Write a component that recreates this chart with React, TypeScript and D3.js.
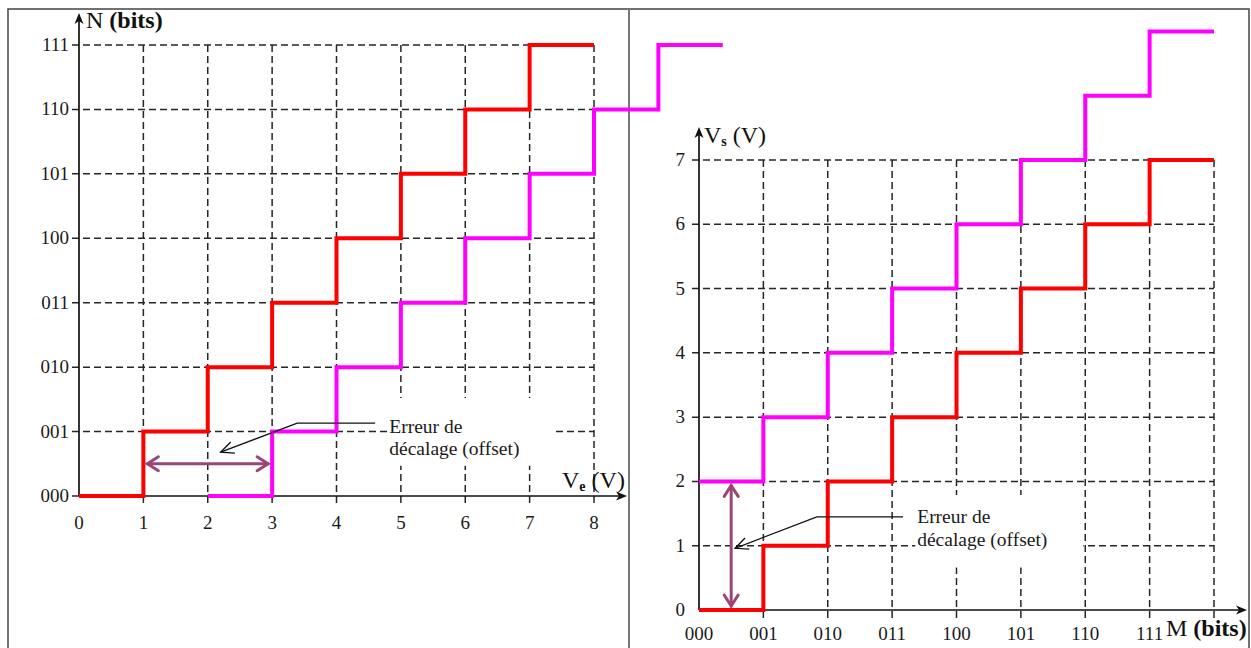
import React from "react";
import * as d3 from "d3";

// left chart: code N versus input voltage Ve
const codesN = ["000", "001", "010", "011", "100", "101", "110", "111"];
const voltsVe = [0, 1, 2, 3, 4, 5, 6, 7, 8];
// [Ve, level] step points (step after)
const redLeft: [number, number][] = [
  [0, 0], [1, 1], [2, 2], [3, 3], [4, 4], [5, 5], [6, 6], [7, 7], [8, 7],
];
const magentaLeft: [number, number][] = [
  [2, 0], [3, 1], [4, 2], [5, 3], [6, 4], [7, 5], [8, 6], [9, 7], [10, 7],
];

// right chart: output voltage Vs versus code M
const codesM = ["000", "001", "010", "011", "100", "101", "110", "111"];
const voltsVs = [0, 1, 2, 3, 4, 5, 6, 7];
const redRight: [number, number][] = [
  [0, 0], [1, 1], [2, 2], [3, 3], [4, 4], [5, 5], [6, 6], [7, 7], [8, 7],
];
const magentaRight: [number, number][] = [
  [0, 2], [1, 3], [2, 4], [3, 5], [4, 6], [5, 7], [6, 8], [7, 9], [8, 9],
];

const FONT = "'Liberation Serif', 'DejaVu Serif', serif";
const GRID = "#262626";
const PURPLE = "#9b4577";

const xL = d3.scaleLinear().domain([0, 8]).range([79, 594]);
const yL = d3.scaleLinear().domain([0, 7]).range([496, 45]);
const xR = d3.scaleLinear().domain([0, 8]).range([699, 1214]);
const yR = d3.scaleLinear().domain([0, 7]).range([610, 160]);

const stepLine = (xs: d3.ScaleLinear<number, number>, ys: d3.ScaleLinear<number, number>) =>
  d3
    .line<[number, number]>()
    .x((d) => xs(d[0]))
    .y((d) => ys(d[1]))
    .curve(d3.curveStepAfter);

/* filled arrow head pointing in direction (dx, dy) */
const headPath = (x: number, y: number, dx: number, dy: number, len = 11, w = 4.5) => {
  const bx = x - dx * len, by = y - dy * len;
  const px = -dy, py = dx;
  return `M${x},${y}L${bx + px * w},${by + py * w}L${bx + dx * 3},${by + dy * 3}L${bx - px * w},${by - py * w}Z`;
};

/* open chevron arrow head */
const chevron = (x: number, y: number, dx: number, dy: number, len = 11, w = 7) => {
  const bx = x - dx * len, by = y - dy * len;
  const px = -dy, py = dx;
  return `M${bx + px * w},${by + py * w}L${x},${y}L${bx - px * w},${by - py * w}`;
};

const Grid = ({ xs, ys, nx, ny }: any) => {
  const x0 = xs(0), x1 = xs(nx), y0 = ys(0), y1 = ys(ny);
  return (
    <g stroke={GRID} strokeWidth={1.5} strokeDasharray="7,4" fill="none">
      {d3.range(1, ny + 1).map((i) => (
        <line key={"h" + i} x1={x0 - 7} x2={x1} y1={ys(i)} y2={ys(i)} />
      ))}
      {d3.range(1, nx + 1).map((i) => (
        <line key={"v" + i} x1={xs(i)} x2={xs(i)} y1={y1} y2={y0 + 10} />
      ))}
    </g>
  );
};

export default function App() {
  const lineL = stepLine(xL, yL);
  const lineR = stepLine(xR, yR);

  // leader line points of the annotations
  const leadL: [number, number][] = [
    [xL(4.6), yL(1.13)], [xL(3.39), yL(1.13)], [xL(2.2), yL(0.68)],
  ];
  const leadR: [number, number][] = [
    [xR(3.17), yR(1.45)], [xR(1.83), yR(1.45)], [xR(0.56), yR(0.96)],
  ];
  const dir = (a: [number, number], b: [number, number]) => {
    const dx = b[0] - a[0], dy = b[1] - a[1];
    const n = Math.hypot(dx, dy);
    return [dx / n, dy / n];
  };
  const dL = dir(leadL[1], leadL[2]);
  const dR = dir(leadR[1], leadR[2]);

  return (
    <svg width={1251} height={648} style={{ position: "absolute", left: 0, top: 0, background: "#fff" }}
      fontFamily={FONT}>
      <rect x={0} y={0} width={1251} height={648} fill="#fff" />
      {/* frame */}
      <g stroke="#444" strokeWidth={1.5} fill="none">
        <path d="M8,648V9H1249V648" />
        <line x1={629} x2={629} y1={9} y2={648} stroke="#777" strokeWidth={2} />
      </g>

      {/* ===== left chart ===== */}
      <Grid xs={xL} ys={yL} nx={8} ny={7} />
      {/* white patch behind the annotation */}
      <rect x={xL(4.82)} y={yL(1.52)} width={xL(7.4) - xL(4.82)} height={yL(0.47) - yL(1.52)} fill="#fff" />
      {/* axes */}
      <g stroke="#111" strokeWidth={1.7}>
        <line x1={xL(0)} x2={xL(0)} y1={yL(0)} y2={20} />
        <line x1={xL(0)} x2={620} y1={yL(0)} y2={yL(0)} />
      </g>
      <path d={headPath(xL(0), 13, 0, -1)} fill="#111" />
      <path d={headPath(627, yL(0), 1, 0)} fill="#111" />
      <g stroke={GRID} strokeWidth={1.5}>
        <line x1={xL(0) - 7} x2={xL(0)} y1={yL(0)} y2={yL(0)} />
      </g>
      <g fontSize={19} fill="#1a1a1a">
        {codesN.map((c, i) => (
          <text key={c} x={xL(0) - 10} y={yL(i) + 6} textAnchor="end">{c}</text>
        ))}
        {voltsVe.map((v) => (
          <text key={v} x={xL(v)} y={529} textAnchor="middle">{v}</text>
        ))}
      </g>
      <text x={86} y={28} fontSize={24} fill="#111">
        N <tspan fontWeight="bold">(bits)</tspan>
      </text>
      <text x={562} y={488} fontSize={24} fill="#111">
        V<tspan fontSize={14} fontWeight="bold" dy={3}>e</tspan>
        <tspan dy={-3}> (V)</tspan>
      </text>

      {/* curves */}
      <path d={lineL(magentaLeft) || ""} fill="none" stroke="#ff00ff" strokeWidth={4} />
      <path d={lineL(redLeft) || ""} fill="none" stroke="#ff0000" strokeWidth={4} />

      {/* offset error annotation */}
      <g stroke={PURPLE} strokeWidth={3} fill="none" strokeLinecap="round">
        <line x1={xL(1) + 4} x2={xL(3) - 4} y1={yL(0.5)} y2={yL(0.5)} />
        <path d={chevron(xL(1) + 4, yL(0.5), -1, 0)} />
        <path d={chevron(xL(3) - 4, yL(0.5), 1, 0)} />
      </g>
      <g stroke="#111" strokeWidth={1.3} fill="none">
        <polyline points={leadL.map((p) => p.join(",")).join(" ")} />
        <path d={chevron(leadL[2][0], leadL[2][1], dL[0], dL[1], 13, 6)} />
      </g>
      <g fontSize={19.5} fill="#1a1a1a">
        <text x={xL(4.82)} y={yL(1.0) + 1}>Erreur de</text>
        <text x={xL(4.82)} y={yL(0.63)}>décalage (offset)</text>
      </g>

      {/* ===== right chart ===== */}
      <Grid xs={xR} ys={yR} nx={8} ny={7} />
      <rect x={xR(3.36)} y={yR(1.79)} width={xR(5.97) - xR(3.36)} height={yR(0.66) - yR(1.79)} fill="#fff" />
      <g stroke="#111" strokeWidth={1.7}>
        <line x1={xR(0)} x2={xR(0)} y1={yR(0)} y2={134} />
        <line x1={xR(0)} x2={1240} y1={yR(0)} y2={yR(0)} />
      </g>
      <path d={headPath(xR(0), 127, 0, -1)} fill="#111" />
      <path d={headPath(1247, yR(0), 1, 0)} fill="#111" />
      <g fontSize={19} fill="#1a1a1a">
        {voltsVs.map((v) => (
          <text key={v} x={xR(0) - 14} y={yR(v) + 6} textAnchor="end">{v}</text>
        ))}
        {codesM.map((c, i) => (
          <text key={c} x={xR(i)} y={640} textAnchor="middle">{c}</text>
        ))}
      </g>
      <text x={704} y={143} fontSize={24} fill="#111">
        V<tspan fontSize={14} fontWeight="bold" dy={3}>s</tspan>
        <tspan dy={-3}> (V)</tspan>
      </text>
      <text x={1166} y={636} fontSize={24} fill="#111">
        M <tspan fontWeight="bold">(bits)</tspan>
      </text>

      <path d={lineR(magentaRight) || ""} fill="none" stroke="#ff00ff" strokeWidth={4} />
      <path d={lineR(redRight) || ""} fill="none" stroke="#ff0000" strokeWidth={4} />

      <g stroke={PURPLE} strokeWidth={3} fill="none" strokeLinecap="round">
        <line x1={xR(0.5)} x2={xR(0.5)} y1={yR(0) - 4} y2={yR(2) + 4} />
        <path d={chevron(xR(0.5), yR(0) - 4, 0, 1)} />
        <path d={chevron(xR(0.5), yR(2) + 4, 0, -1)} />
      </g>
      <g stroke="#111" strokeWidth={1.3} fill="none">
        <polyline points={leadR.map((p) => p.join(",")).join(" ")} />
        <path d={chevron(leadR[2][0], leadR[2][1], dR[0], dR[1], 13, 6)} />
      </g>
      <g fontSize={19.5} fill="#1a1a1a">
        <text x={xR(3.39)} y={yR(1.35)}>Erreur de</text>
        <text x={xR(3.39)} y={yR(0.99)}>décalage (offset)</text>
      </g>
    </svg>
  );
}
